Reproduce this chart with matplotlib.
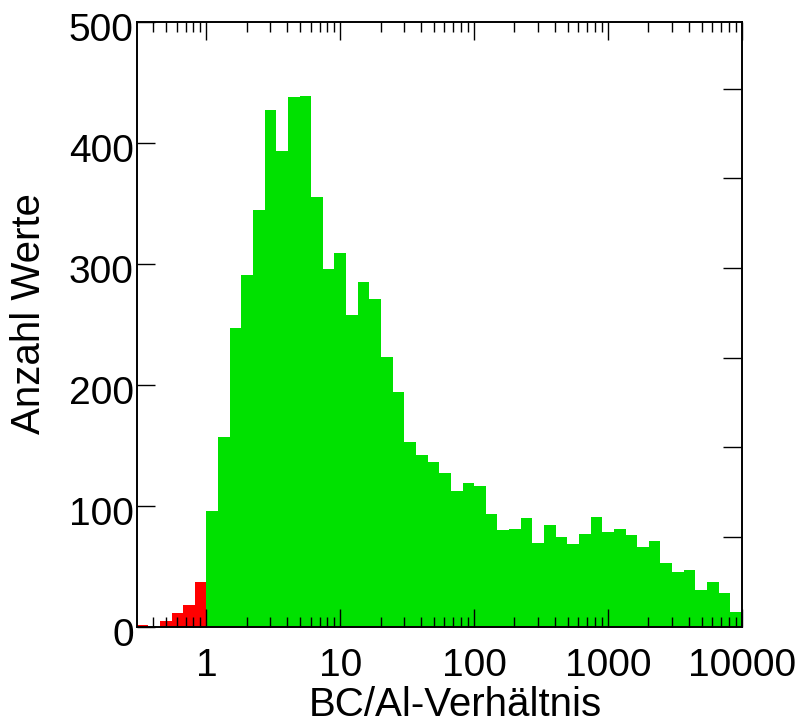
import numpy as np
import matplotlib
matplotlib.use('Agg')
import matplotlib.pyplot as plt
import matplotlib.transforms as mtransforms
from matplotlib.ticker import LogLocator, NullFormatter

# BC/Al ratio histogram: 52 log-spaced bins, 46 bins per 4 decades above 1
n_bins = 52
log_lo = -24 / 46
log_hi = 4.0
counts = [1, 0, 5, 11, 18, 37,
          96, 157, 247, 291, 344, 427, 393, 438, 439, 355,
          296, 309, 258, 285, 271, 223, 194, 153, 142, 136,
          127, 112, 119, 116, 93, 80, 81, 90, 69, 84,
          74, 68, 77, 91, 78, 81, 76, 66, 71, 53,
          45, 47, 30, 37, 28, 12]
threshold = 1.0

xtick_vals = [1, 10, 100, 1000, 10000]
xtick_labels = ['1', '10', '100', '1000', '10000']
ytick_vals = [0, 100, 200, 300, 400, 500]
right_ticks = [74.1, 148.2, 222.3, 296.4, 370.5, 444.6]

plt.rcParams['font.family'] = ['Liberation Sans', 'DejaVu Sans']

edges = np.logspace(log_lo, log_hi, n_bins + 1)
widths = np.diff(edges)
colors = ['#ff0000' if hi <= threshold * 1.001 else '#00e100' for hi in edges[1:]]

fig = plt.figure(figsize=(8.04, 7.24), dpi=100)
ax = fig.add_axes([0.1699, 0.1344, 0.7529, 0.8356])

ax.bar(edges[:-1], counts, width=widths, align='edge', color=colors,
       linewidth=0)

ax.set_xscale('log')
ax.set_xlim(edges[0], 10 ** log_hi)
ax.set_ylim(0, 500)

ax.set_xticks(xtick_vals, labels=xtick_labels)
ax.xaxis.set_minor_locator(LogLocator(base=10, subs=np.arange(2, 10), numticks=20))
ax.xaxis.set_minor_formatter(NullFormatter())
ax.set_yticks(ytick_vals)

ax.tick_params(axis='x', which='major', direction='in', length=13, width=1,
               top=True, bottom=True, labelsize=28, pad=15)
ax.tick_params(axis='x', which='minor', direction='in', length=7.5, width=1,
               top=True, bottom=True)
ax.tick_params(axis='y', which='major', direction='in', length=13, width=1,
               left=True, right=False, labelsize=28, pad=2)

# y labels sit a little below their ticks
shift = mtransforms.ScaledTranslation(0, -4 / 72, fig.dpi_scale_trans)
for lbl in ax.get_yticklabels():
    lbl.set_transform(lbl.get_transform() + shift)

# separate scale on the right, ticks only
ax2 = ax.twinx()
ax2.set_ylim(0, 500)
ax2.set_yticks(right_ticks)
ax2.tick_params(axis='y', direction='in', length=14, width=1,
                labelright=False)
for a in (ax, ax2):
    for s in a.spines.values():
        s.set_linewidth(1.2)

ax.set_xlabel('BC/Al-Verhältnis', fontsize=29)
ax.set_ylabel('Anzahl Werte', fontsize=29)
ax.xaxis.set_label_coords(0.526, -0.098)
ax.yaxis.set_label_coords(-0.147, 0.518)

fig.savefig('out.png', dpi=100)
